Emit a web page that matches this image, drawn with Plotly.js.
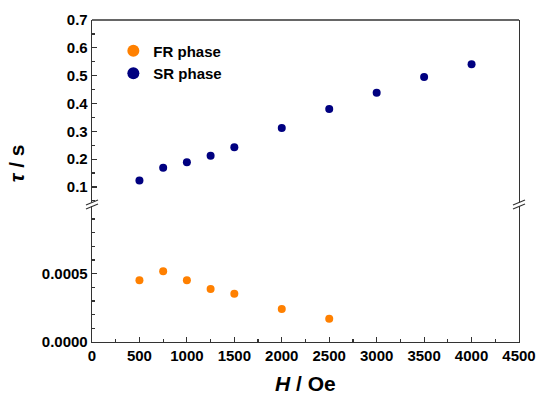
<!DOCTYPE html>
<html>
<head>
<meta charset="utf-8">
<script src="https://cdn.plot.ly/plotly-3.0.1.min.js"></script>
<style>html,body{margin:0;padding:0;background:#fff}#chart{width:538px;height:399px}</style>
</head>
<body>
<div id="chart"></div>
<script>
// Data
const fieldFR = [500, 750, 1000, 1250, 1500, 2000, 2500];
const tauFR   = [0.000451, 0.000517, 0.000451, 0.000387, 0.000353, 0.000241, 0.000171];
const fieldSR = [500, 750, 1000, 1250, 1500, 2000, 2500, 3000, 3500, 4000];
const tauSR   = [0.123, 0.169, 0.189, 0.212, 0.243, 0.312, 0.380, 0.439, 0.495, 0.541];
const seriesNames = ['FR phase', 'SR phase'];
const xTickVals = [0, 500, 1000, 1500, 2000, 2500, 3000, 3500, 4000, 4500];
const yLowTickVals = [0, 0.0005];
const yLowTickText = ['0.0000', '0.0005'];
const yHighTickVals = [0.1, 0.2, 0.3, 0.4, 0.5, 0.6, 0.7];

const F = {family: 'Liberation Sans, Arial, sans-serif', size: 15, color: '#000', weight: 700};
const axisColor = '#333';
const split = 0.4286; // break position (fraction of plot height)
const b = s => '<b>' + s + '</b>';

const traces = [
  {x: fieldFR, y: tauFR, name: b(seriesNames[0]), type: 'scatter', mode: 'markers',
   xaxis: 'x', yaxis: 'y', marker: {color: '#FF8000', size: 8}},
  {x: fieldSR, y: tauSR, name: b(seriesNames[1]), type: 'scatter', mode: 'markers',
   xaxis: 'x', yaxis: 'y2', marker: {color: '#000080', size: 8}}
];

function brk(xa) {
  return [
    {type: 'rect', xref: 'paper', yref: 'paper', xsizemode: 'pixel', ysizemode: 'pixel',
     xanchor: xa, yanchor: split, x0: -2, x1: 2, y0: -2, y1: 1.5,
     fillcolor: '#fff', line: {width: 0}, layer: 'above'},
    {type: 'line', xref: 'paper', yref: 'paper', xsizemode: 'pixel', ysizemode: 'pixel',
     xanchor: xa, yanchor: split, x0: -6, x1: 6, y0: -1, y1: 4,
     line: {color: axisColor, width: 1.2}, layer: 'above'},
    {type: 'line', xref: 'paper', yref: 'paper', xsizemode: 'pixel', ysizemode: 'pixel',
     xanchor: xa, yanchor: split, x0: -6, x1: 6, y0: -5, y1: 0,
     line: {color: axisColor, width: 1.2}, layer: 'above'}
  ];
}

const commonAxis = {
  showgrid: false, zeroline: false, showline: true, linecolor: axisColor, linewidth: 1.3,
  ticks: 'inside', ticklen: 5, tickcolor: axisColor, tickwidth: 1.2, tickfont: F, fixedrange: true
};

const layout = {
  width: 538, height: 399,
  margin: {l: 92, r: 19, t: 20, b: 57},
  paper_bgcolor: '#fff', plot_bgcolor: '#fff',
  showlegend: true,
  legend: {x: 0.05, y: 0.955, xanchor: 'left', yanchor: 'top', bgcolor: 'rgba(0,0,0,0)',
           font: F, itemsizing: 'constant'},
  xaxis: Object.assign({}, commonAxis, {
    range: [0, 4500], tickvals: xTickVals, ticktext: xTickVals.map(v => b(String(v))),
    minor: {dtick: 250, tick0: 0, ticks: 'inside', ticklen: 3, tickcolor: axisColor, tickwidth: 1.2},
    mirror: false, anchor: 'y'
  }),
  yaxis: Object.assign({}, commonAxis, {
    domain: [0, split], range: [0, 0.00101],
    tickvals: yLowTickVals, ticktext: yLowTickText.map(b),
    minor: {dtick: 0.0001, tick0: 0, ticks: 'inside', ticklen: 3, tickcolor: axisColor, tickwidth: 1.2},
    mirror: true, anchor: 'x'
  }),
  yaxis2: Object.assign({}, commonAxis, {
    domain: [split, 1], range: [0.0388, 0.7],
    tickvals: yHighTickVals, ticktext: yHighTickVals.map(v => b(v.toFixed(1))),
    minor: {dtick: 0.05, tick0: 0, ticks: 'inside', ticklen: 3, tickcolor: axisColor, tickwidth: 1.2},
    mirror: true, anchor: 'x'
  }),
  shapes: [
    {type: 'line', xref: 'paper', yref: 'paper', x0: 0, x1: 1, y0: 1, y1: 1,
     line: {color: axisColor, width: 1.3}}
  ].concat(brk(0), brk(1)),
  annotations: [
    {text: '<b><i>H</i> / Oe</b>', xref: 'paper', yref: 'paper', x: 0.5, y: -0.13,
     xanchor: 'center', yanchor: 'middle', showarrow: false,
     font: {family: 'Liberation Sans, Arial, sans-serif', size: 21, color: '#000'}},
    {text: '<b><i>τ</i> / s</b>', xref: 'paper', yref: 'paper', x: -0.175, y: 0.556,
     xanchor: 'center', yanchor: 'middle', showarrow: false, textangle: -90,
     font: {family: 'Liberation Sans, Arial, sans-serif', size: 21, color: '#000'}}
  ]
};

Plotly.newPlot('chart', traces, layout, {displayModeBar: false, staticPlot: true});
</script>
</body>
</html>
